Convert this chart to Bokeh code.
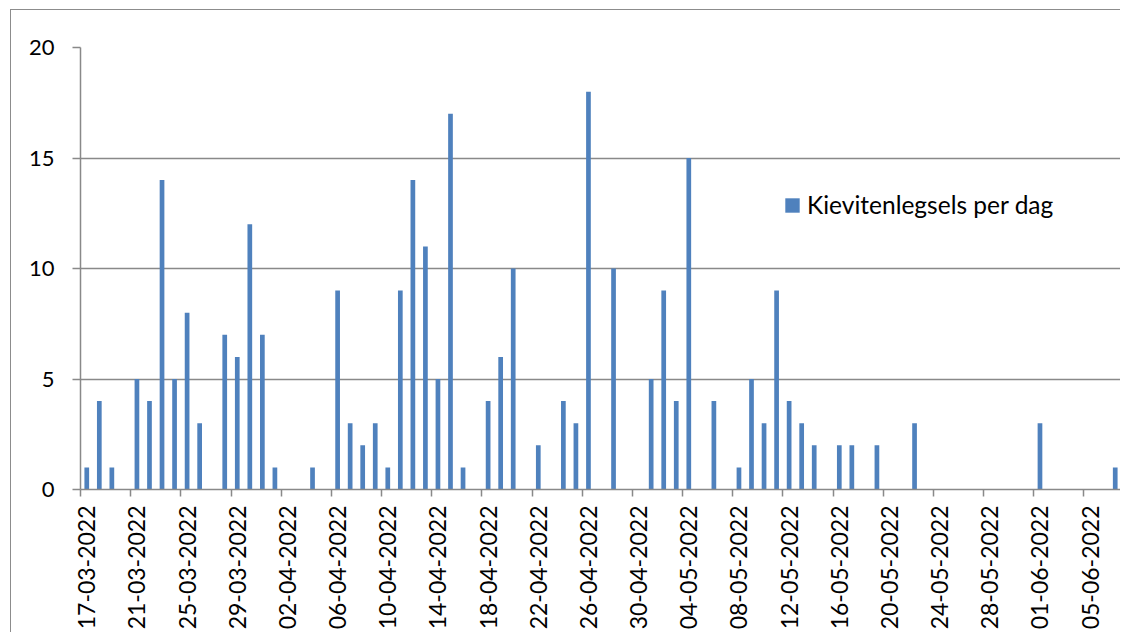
import math
from datetime import datetime, timedelta

from bokeh.plotting import figure
from bokeh.models import (Range1d, DatetimeAxis, FixedTicker, DatetimeTickFormatter,
                          CustomJSTickFormatter, Legend, LegendItem, ColumnDataSource)
from bokeh.embed import file_html
from bokeh.resources import INLINE

# ---- data ----
dates = ["17-03-2022", "18-03-2022", "19-03-2022", "21-03-2022", "22-03-2022",
         "23-03-2022", "24-03-2022", "25-03-2022", "26-03-2022", "28-03-2022",
         "29-03-2022", "30-03-2022", "31-03-2022", "01-04-2022", "04-04-2022",
         "06-04-2022", "07-04-2022", "08-04-2022", "09-04-2022", "10-04-2022",
         "11-04-2022", "12-04-2022", "13-04-2022", "14-04-2022", "15-04-2022",
         "16-04-2022", "18-04-2022", "19-04-2022", "20-04-2022", "22-04-2022",
         "24-04-2022", "25-04-2022", "26-04-2022", "28-04-2022", "01-05-2022",
         "02-05-2022", "03-05-2022", "04-05-2022", "06-05-2022", "08-05-2022",
         "09-05-2022", "10-05-2022", "11-05-2022", "12-05-2022", "13-05-2022",
         "14-05-2022", "16-05-2022", "17-05-2022", "19-05-2022", "22-05-2022",
         "01-06-2022", "07-06-2022"]
counts = [1, 4, 1, 5, 4,
          14, 5, 8, 3, 7,
          6, 12, 7, 1, 1,
          9, 3, 2, 3, 1,
          9, 14, 11, 5, 17,
          1, 4, 6, 10, 2,
          4, 3, 18, 10, 5,
          9, 4, 15, 4, 1,
          5, 3, 9, 4, 3,
          2, 2, 2, 2, 3,
          3, 1]
tick_labels = ["17-03-2022", "21-03-2022", "25-03-2022", "29-03-2022", "02-04-2022",
               "06-04-2022", "10-04-2022", "14-04-2022", "18-04-2022", "22-04-2022",
               "26-04-2022", "30-04-2022", "04-05-2022", "08-05-2022", "12-05-2022",
               "16-05-2022", "20-05-2022", "24-05-2022", "28-05-2022", "01-06-2022",
               "05-06-2022"]
axis_first = "17-03-2022"
axis_last = "07-06-2022"
y_ticks = [0, 5, 10, 15, 20]
series_name = "Kievitenlegsels per dag"

# ---- styling ----
FONT = "Lato"
GRAY = "#898989"
BLUE = "#4F81BD"
DAY_MS = 86400000


def parse(d):
    return datetime.strptime(d, "%d-%m-%Y")


half_day = timedelta(hours=12)
x_start = parse(axis_first) - half_day
x_end = parse(axis_last) + half_day

source = ColumnDataSource(data=dict(x=[parse(d) for d in dates], top=counts))

p = figure(width=1110, height=623, x_axis_type="datetime",
           x_range=Range1d(x_start, x_end), y_range=Range1d(0, 20),
           output_backend="svg", toolbar_location=None,
           min_border_left=69, min_border_top=37, min_border_bottom=144,
           min_border_right=0)
p.styles = {"border-left": "1px solid #8c8c8c", "border-top": "1px solid #8c8c8c",
            "margin-left": "10px", "margin-top": "9px"}
p.outline_line_color = None
p.background_fill_color = "white"
p.border_fill_color = "white"

r = p.vbar(x="x", top="top", width=0.375 * DAY_MS, source=source,
           fill_color=BLUE, line_color=None)

# x axis: tick marks on category boundaries, no labels
tick_bounds = [parse(t) - half_day for t in tick_labels]
xa = p.xaxis[0]
xa.ticker = FixedTicker(ticks=[t.timestamp() * 1000 for t in tick_bounds])
xa.formatter = CustomJSTickFormatter(code="return ''")
xa.major_tick_out = 7
xa.major_tick_in = 0
xa.minor_tick_line_color = None
xa.major_label_standoff = 0
xa.axis_line_color = GRAY
xa.axis_line_width = 1.5
xa.major_tick_line_color = GRAY
xa.major_tick_line_width = 1.5

# x axis labels centred on categories
fmt = "%d-%m-%Y"
lab_axis = DatetimeAxis(
    ticker=FixedTicker(ticks=[parse(t).timestamp() * 1000 for t in tick_labels]),
    formatter=DatetimeTickFormatter(milliseconds=fmt, seconds=fmt, minsec=fmt,
                                    minutes=fmt, hourmin=fmt, hours=fmt, days=fmt,
                                    months=fmt, years=fmt),
    major_label_orientation=math.pi / 2,
    major_tick_out=0, major_tick_in=0,
    major_tick_line_color=None, minor_tick_line_color=None,
    axis_line_color=None,
    major_label_standoff=9,
    major_label_text_font=FONT,
    major_label_text_font_size="23px",
    major_label_text_color="black",
)
p.add_layout(lab_axis, "below")

# y axis
ya = p.yaxis[0]
ya.ticker = FixedTicker(ticks=y_ticks)
ya.major_tick_out = 8
ya.major_tick_in = 0
ya.minor_tick_line_color = None
ya.axis_line_color = GRAY
ya.axis_line_width = 1.5
ya.major_tick_line_color = GRAY
ya.major_tick_line_width = 1.5
ya.major_label_standoff = 18
ya.major_label_text_font = FONT
ya.major_label_text_font_size = "22px"
ya.major_label_text_color = "black"

p.xgrid.visible = False
p.ygrid.ticker = FixedTicker(ticks=y_ticks)
p.ygrid.grid_line_color = GRAY
p.ygrid.grid_line_width = 1.5

legend = Legend(items=[LegendItem(label=series_name, renderers=[r])],
                location=(703, 270), glyph_width=18, glyph_height=18,
                label_standoff=6, padding=0, margin=0,
                border_line_color=None, background_fill_alpha=0,
                label_text_font=FONT, label_text_font_size="24.5px",
                label_text_color="black")
p.add_layout(legend)

open("out.html", "w").write(file_html(p, INLINE))
